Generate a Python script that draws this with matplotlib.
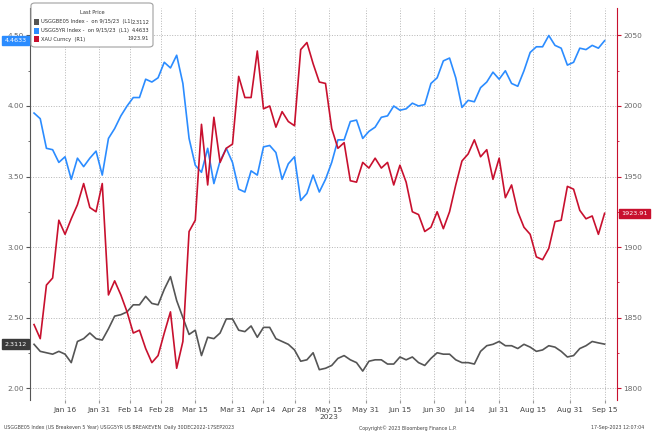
import numpy as np
import pandas as pd
import matplotlib
matplotlib.use("Agg")
import matplotlib.pyplot as plt
from matplotlib import font_manager
from matplotlib.patches import FancyBboxPatch, Rectangle
import matplotlib.transforms as mtrans

# every second trading day, 2 Jan 2023 -> 15 Sep 2023
dates = pd.bdate_range('2023-01-02', '2023-09-15')[::2]

usgg5yr = [3.95, 3.91, 3.70, 3.69, 3.60, 3.64, 3.48, 3.63, 3.57, 3.63,
           3.68, 3.51, 3.77, 3.84, 3.93, 4.00, 4.06, 4.06, 4.19, 4.17,
           4.20, 4.31, 4.27, 4.36, 4.16, 3.77, 3.58, 3.53, 3.70, 3.45,
           3.61, 3.70, 3.60, 3.41, 3.39, 3.54, 3.51, 3.71, 3.72, 3.67,
           3.48, 3.59, 3.64, 3.33, 3.38, 3.51, 3.39, 3.48, 3.60, 3.76,
           3.76, 3.89, 3.90, 3.77, 3.82, 3.85, 3.92, 3.93, 4.00, 3.97,
           3.98, 4.02, 4.00, 4.01, 4.16, 4.20, 4.32, 4.34, 4.20, 3.99,
           4.04, 4.03, 4.13, 4.17, 4.24, 4.19, 4.25, 4.16, 4.14, 4.25,
           4.38, 4.42, 4.42, 4.50, 4.43, 4.41, 4.29, 4.31, 4.41, 4.40,
           4.43, 4.41, 4.4633]

xau = [1845, 1835, 1873, 1878, 1919, 1909, 1920, 1930, 1945, 1928,
       1925, 1945, 1866, 1876, 1866, 1854, 1839, 1841, 1828, 1818,
       1823, 1839, 1854, 1814, 1833, 1911, 1919, 1987, 1944, 1992,
       1960, 1970, 1973, 2021, 2006, 2006, 2039, 1998, 2000, 1985,
       1996, 1989, 1986, 2040, 2045, 2030, 2017, 2016, 1984, 1970,
       1974, 1947, 1946, 1960, 1956, 1963, 1956, 1960, 1944, 1958,
       1946, 1925, 1923, 1911, 1914, 1925, 1913, 1925, 1944, 1961,
       1966, 1976, 1964, 1969, 1948, 1963, 1935, 1944, 1925, 1914,
       1909, 1893, 1891, 1899, 1918, 1919, 1943, 1941, 1926, 1920,
       1922, 1909, 1923.91]

usggbe05 = [2.31, 2.26, 2.25, 2.24, 2.26, 2.24, 2.18, 2.33, 2.35, 2.39,
            2.35, 2.34, 2.42, 2.51, 2.52, 2.54, 2.59, 2.59, 2.65, 2.60,
            2.59, 2.70, 2.79, 2.62, 2.50, 2.38, 2.41, 2.23, 2.36, 2.35,
            2.39, 2.49, 2.49, 2.41, 2.40, 2.44, 2.36, 2.43, 2.43, 2.35,
            2.33, 2.31, 2.27, 2.19, 2.20, 2.25, 2.13, 2.14, 2.16, 2.21,
            2.23, 2.20, 2.18, 2.12, 2.19, 2.20, 2.20, 2.17, 2.17, 2.22,
            2.20, 2.22, 2.18, 2.16, 2.21, 2.25, 2.24, 2.24, 2.20, 2.18,
            2.18, 2.17, 2.26, 2.30, 2.31, 2.33, 2.30, 2.30, 2.28, 2.31,
            2.29, 2.26, 2.27, 2.30, 2.29, 2.26, 2.22, 2.23, 2.28, 2.30,
            2.33, 2.32, 2.3112]

tick_dates = ['2023-01-16', '2023-01-31', '2023-02-14', '2023-02-28', '2023-03-15',
              '2023-03-31', '2023-04-14', '2023-04-28', '2023-05-15', '2023-05-31',
              '2023-06-15', '2023-06-30', '2023-07-14', '2023-07-31', '2023-08-15',
              '2023-08-31', '2023-09-15']
tick_labels = ['Jan 16', 'Jan 31', 'Feb 14', 'Feb 28', 'Mar 15', 'Mar 31', 'Apr 14',
               'Apr 28', 'May 15\n2023', 'May 31', 'Jun 15', 'Jun 30', 'Jul 14',
               'Jul 31', 'Aug 15', 'Aug 31', 'Sep 15']

BLUE = '#2b8cff'
RED = '#c8102e'
GRAY = '#555555'
TXT = '#666666'

# narrow font for the small Bloomberg texts, if one is installed
narrow = None
for fam in ['Liberation Sans Narrow', 'DejaVu Sans Condensed']:
    try:
        font_manager.findfont(fam, fallback_to_default=False)
        narrow = fam
        break
    except ValueError:
        pass
if narrow:
    small = dict(family=[narrow, 'DejaVu Sans'])
    fs_leg, fs_foot = 4.6, 4.4
else:
    small = dict(family=['DejaVu Sans'])
    fs_leg, fs_foot = 3.7, 3.4

# x = trading-day index (Bloomberg style axis, no gaps for weekends)
start = np.datetime64('2022-12-30')
x = np.busday_count(start, dates.values.astype('datetime64[D]'))
xt = np.busday_count(start, np.array(tick_dates, dtype='datetime64[D]'))

fig = plt.figure(figsize=(6.53, 4.37), dpi=100)
ax = fig.add_axes([30/653, 1 - 400/437, 587/653, 392/437])
ax2 = ax.twinx()

ax.plot(x, usgg5yr, color=BLUE, lw=1.2)
ax.plot(x, usggbe05, color=GRAY, lw=1.2)
ax2.plot(x, xau, color=RED, lw=1.2)

ax.set_xlim(-0.3, 189)
ax.set_ylim(1.915, 4.695)
ax2.set_ylim(1791.5, 2069.5)

ax.set_yticks([2.0, 2.5, 3.0, 3.5, 4.0, 4.5])
ax.set_yticklabels(['2.00', '2.50', '3.00', '3.50', '4.00', '4.50'])
ax.set_yticks(np.arange(2.25, 4.6, 0.5), minor=True)
ax2.set_yticks([1800, 1850, 1900, 1950, 2000, 2050])
ax2.set_yticks(np.arange(1825, 2070, 50), minor=True)
ax.set_xticks(xt)
ax.set_xticklabels(tick_labels)

ax.grid(True, which='major', color='#b5b5b5', ls=':', lw=0.7)
ax.tick_params(axis='y', which='major', direction='out', length=3, color=GRAY,
               labelsize=5.3, labelcolor=TXT, pad=1.5)
ax.tick_params(axis='y', which='minor', direction='out', length=1.5, color=GRAY)
ax.tick_params(axis='x', length=2, color='#999999', labelsize=5.3, labelcolor='#444444', pad=3)
ax2.tick_params(axis='y', which='major', direction='out', length=3, color=RED,
                labelsize=5.3, labelcolor=TXT, pad=1.5)
ax2.tick_params(axis='y', which='minor', direction='out', length=1.5, color=RED)

for a in (ax, ax2):
    a.spines['top'].set_visible(False)
    a.spines['bottom'].set_visible(False)
ax.spines['right'].set_visible(False)
ax2.spines['left'].set_visible(False)
ax.spines['left'].set_color(GRAY)
ax.spines['left'].set_linewidth(0.8)
ax2.spines['right'].set_color(RED)
ax2.spines['right'].set_linewidth(0.8)

# last value tags
tl = mtrans.blended_transform_factory(ax.transAxes, ax.transData)
ax.text(-0.006, usgg5yr[-1], '4.4633', transform=tl, ha='right', va='center',
        fontsize=4.6, color='white', zorder=10, clip_on=False,
        bbox=dict(boxstyle='square,pad=0.35', fc=BLUE, ec=BLUE))
ax.text(-0.006, usggbe05[-1], '2.3112', transform=tl, ha='right', va='center',
        fontsize=4.6, color='white', zorder=10, clip_on=False,
        bbox=dict(boxstyle='square,pad=0.35', fc='#3a3a3a', ec='#3a3a3a'))
tr = mtrans.blended_transform_factory(ax2.transAxes, ax2.transData)
ax2.text(1.008, xau[-1], '1923.91', transform=tr, ha='left', va='center',
         fontsize=4.6, color='white', zorder=10, clip_on=False,
         bbox=dict(boxstyle='square,pad=0.35', fc=RED, ec=RED))

# legend box
W, H = 653, 437
fig.patches.append(FancyBboxPatch((31/W, 1 - 47/H), 122/W, 44/H,
                                  boxstyle='round,pad=0,rounding_size=0.006',
                                  transform=fig.transFigure, fc='white', ec='#a0a0a0', lw=0.8))
fig.text(92/W, 1 - 13/H, 'Last Price', fontsize=fs_leg, color='#333333',
         ha='center', va='center', **small)
rows = [(GRAY, 'USGGBE05 Index -  on 9/15/23  (L1)', '2.3112'),
        (BLUE, 'USGG5YR Index -  on 9/15/23  (L1)', '4.4633'),
        (RED, 'XAU Curncy  (R1)', '1923.91')]
for i, (c, lab, val) in enumerate(rows):
    yy = 1 - (22 + 8.5 * i) / H
    fig.patches.append(Rectangle((34/W, yy - 3/H), 5/W, 6/H, transform=fig.transFigure,
                                 fc=c, ec='none'))
    fig.text(41/W, yy, lab, fontsize=fs_leg, color='#333333', va='center', **small)
    fig.text(149/W, yy, val, fontsize=fs_leg, color='#333333', va='center', ha='right', **small)

# footer
fig.text(4/W, 1 - 428/H, 'USGGBE05 Index (US Breakeven 5 Year) USGG5YR US BREAKEVEN  Daily 30DEC2022-17SEP2023',
         fontsize=fs_foot, color='#444444', va='center', **small)
fig.text(408/W, 1 - 428/H, 'Copyright\u00a9 2023 Bloomberg Finance L.P.', fontsize=fs_foot,
         color='#444444', va='center', ha='center', **small)
fig.text(644/W, 1 - 428/H, '17-Sep-2023 12:07:04', fontsize=fs_foot, color='#444444',
         va='center', ha='right', **small)

fig.savefig('out.png', dpi=100)
